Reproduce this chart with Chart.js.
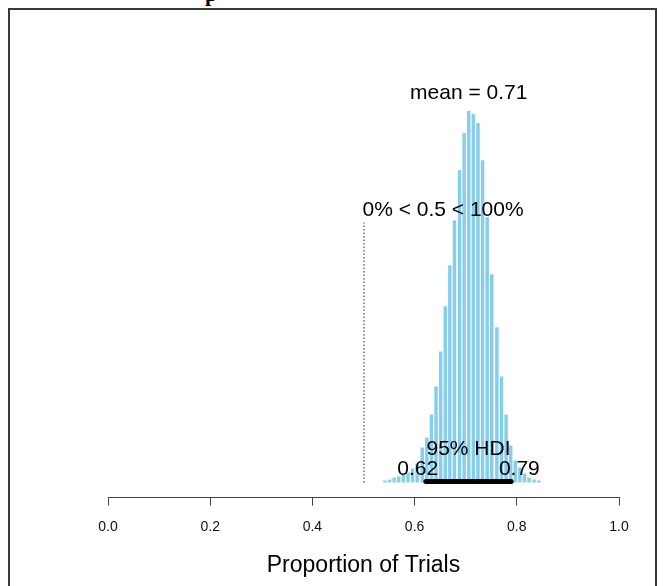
<!DOCTYPE html>
<html>
<head>
<meta charset="utf-8">
<script src="https://cdn.jsdelivr.net/npm/chart.js@4"></script>
<style>
  html, body { margin: 0; padding: 0; background: #fff; }
  body { width: 666px; height: 586px; position: relative; overflow: hidden; }
  #frame { position: absolute; left: 8px; top: 8px; width: 649px; height: 600px;
           border: 2px solid #3a3a3a; box-sizing: border-box; }
  #titleBit { position: absolute; left: 205px; top: -19px; font: bold 22px "Liberation Serif", serif; color: #000; }
  #wrap { position: absolute; left: 0; top: 0; width: 666px; height: 586px; }
</style>
</head>
<body>
<div id="titleBit">p</div>
<div id="frame"></div>
<div id="wrap"><canvas id="myChart" width="666" height="586"></canvas></div>
<script>
// histogram bins (bin centre) and bar heights
const binCenters = [0.542, 0.551, 0.560, 0.569, 0.578, 0.587, 0.596, 0.605, 0.615, 0.624,
                    0.633, 0.642, 0.651, 0.660, 0.669, 0.678, 0.688, 0.697, 0.706, 0.715,
                    0.724, 0.733, 0.742, 0.751, 0.761, 0.770, 0.779, 0.788, 0.797, 0.806,
                    0.815, 0.824, 0.834, 0.843];
const binHeights = [2, 3, 5, 6, 8, 10, 14, 19, 35, 45,
                    68, 96, 131, 176, 217, 262, 312, 349, 371, 368,
                    359, 322, 265, 208, 155, 106, 68, 37, 22, 15,
                    9, 5, 3, 2];

const tickValues = [0, 0.2, 0.4, 0.6, 0.8, 1.0];
const tickLabels = ['0.0', '0.2', '0.4', '0.6', '0.8', '1.0'];

const meanVal = 0.706;
const meanLabel = 'mean = 0.71';
const compVal = 0.5;
const compLabel = '0% < 0.5 < 100%';
const hdiLow = 0.622;
const hdiHigh = 0.789;
const hdiLabels = ['0.62', '0.79'];
const hdiTitle = '95% HDI';

const FONT = '"Liberation Sans", Arial, Helvetica, sans-serif';

const annotations = {
  id: 'annotations',
  afterDatasetsDraw(chart) {
    const ctx = chart.ctx;
    const x = chart.scales.x, y = chart.scales.y;
    const base = y.getPixelForValue(0);
    const maxH = Math.max(...binHeights);
    ctx.save();
    ctx.fillStyle = '#000';
    ctx.font = '21px ' + FONT;

    // comparison value
    const cx = x.getPixelForValue(compVal);
    const top = y.getPixelForValue(0.7 * maxH);
    ctx.strokeStyle = '#222';
    ctx.lineWidth = 1;
    ctx.setLineDash([1.5, 2]);
    ctx.beginPath();
    ctx.moveTo(cx + 0.5, base);
    ctx.lineTo(cx + 0.5, top);
    ctx.stroke();
    ctx.setLineDash([]);
    ctx.textAlign = 'left';
    ctx.textBaseline = 'alphabetic';
    ctx.fillText(compLabel, cx - 1, top - 7);

    // mean
    ctx.textAlign = 'center';
    ctx.fillText(meanLabel, x.getPixelForValue(meanVal), y.getPixelForValue(maxH) - 12);

    // HDI
    const lx = x.getPixelForValue(hdiLow), hx = x.getPixelForValue(hdiHigh);
    ctx.strokeStyle = '#000';
    ctx.lineWidth = 5;
    ctx.lineCap = 'round';
    ctx.beginPath();
    ctx.moveTo(lx, base - 1);
    ctx.lineTo(hx, base - 1);
    ctx.stroke();
    ctx.fillText(hdiTitle, (lx + hx) / 2, base - 28);
    ctx.textAlign = 'left';
    const w0 = ctx.measureText(hdiLabels[0]).width;
    const w1 = ctx.measureText(hdiLabels[1]).width;
    ctx.fillText(hdiLabels[0], lx - 0.7 * w0, base - 8);
    ctx.fillText(hdiLabels[1], hx - 0.3 * w1, base - 8);
    ctx.restore();
  }
};

const ctx = document.getElementById('myChart').getContext('2d');

new Chart(ctx, {
  type: 'bar',
  data: {
    datasets: [{
      data: binCenters.map((c, i) => ({ x: c, y: binHeights[i] })),
      backgroundColor: '#87CEEB',
      borderWidth: 0,
      barPercentage: 0.76,
      categoryPercentage: 1.0
    }]
  },
  options: {
    responsive: false,
    animation: false,
    events: [],
    layout: { padding: { left: 108, right: 47, top: 60, bottom: 3 } },
    plugins: { legend: { display: false }, tooltip: { enabled: false } },
    scales: {
      x: {
        type: 'linear',
        min: 0,
        max: 1,
        offset: false,
        afterBuildTicks: (axis) => { axis.ticks = tickValues.map(v => ({ value: v })); },
        ticks: {
          callback: (v, i) => tickLabels[i],
          font: { family: FONT, size: 14 },
          color: '#111',
          padding: 13,
          maxRotation: 0
        },
        grid: { offset: false, drawOnChartArea: false, drawTicks: true, tickLength: 8, color: '#444' },
        border: { display: true, color: '#444', width: 1 },
        title: {
          display: true,
          text: 'Proportion of Trials',
          font: { family: FONT, size: 23 },
          color: '#000',
          padding: { top: 3, bottom: 4 }
        }
      },
      y: {
        display: false,
        min: -15,
        max: 422
      }
    }
  },
  plugins: [annotations]
});
</script>
</body>
</html>
